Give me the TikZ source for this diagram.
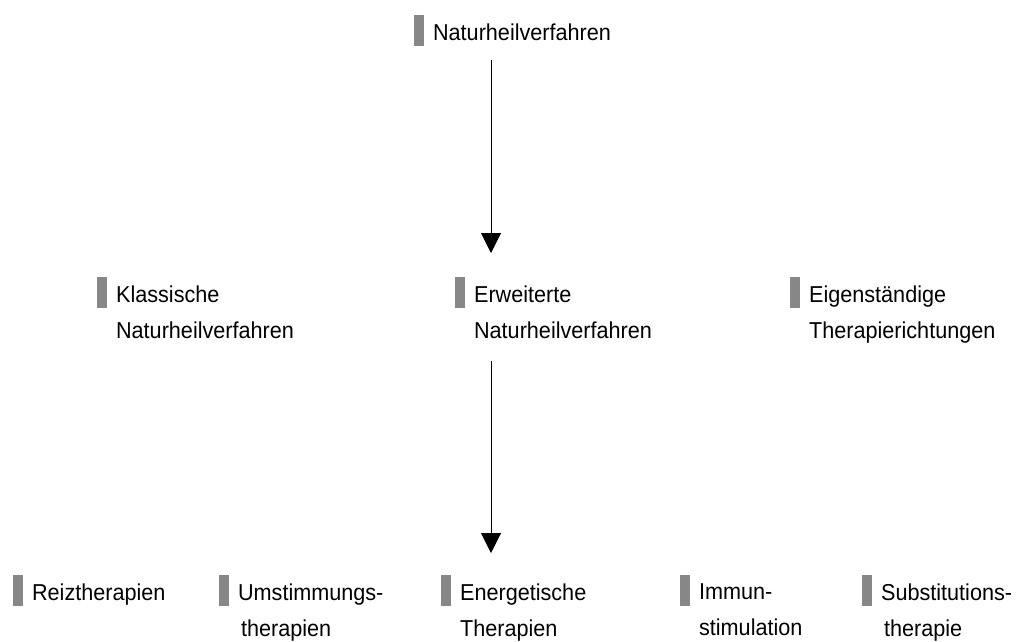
\documentclass[tikz,border=0pt]{standalone}
\usepackage{fontspec}
\setmainfont{Liberation Sans}[FakeStretch=0.94]
\usetikzlibrary{positioning,arrows.meta}
\begin{document}
\begin{tikzpicture}[x=1pt,y=-1pt,
bar/.style={%
fill=black!47,
minimum width=9.5pt,
minimum height=31pt,
inner sep=0pt,
anchor=north west
},
lbl/.style={%
anchor=north west,
inner sep=0pt,
align=left,
font=\fontsize{23}{36}\selectfont
},
arr/.style={%
line width=1pt,
-{Triangle[length=20pt,width=20pt]}
},
]
\useasboundingbox(0,0)rectangle(1028,641);
%%axis of the arrows
\coordinate(ax)at(491,0);
%%top
\node[bar](b0)at(414,15){};
\node[below right=8.5pt and 9pt of b0.north east,lbl](t0){Naturheilverfahren};
%%second row
\node[bar](b1)at(97,277){};
\node[below right=8.5pt and 9pt of b1.north east,lbl](t1){Klassische\\Naturheilverfahren};
\node[bar](b2)at(455,277){};
\node[below right=8.5pt and 9pt of b2.north east,lbl](t2){Erweiterte\\Naturheilverfahren};
\node[bar](b3)at(790,277){};
\node[below right=8.5pt and 9pt of b3.north east,lbl](t3){Eigenständige\\Therapierichtungen};
%%third row
\node[bar](b4)at(13,575){};
\node[below right=8.5pt and 9pt of b4.north east,lbl](t4){Reiztherapien};
\node[bar](b5)at(219,575){};
\node[below right=8.5pt and 9pt of b5.north east,lbl](t5){Umstimmungs-\\\hspace{3pt}therapien};
\node[bar](b6)at(441,575){};
\node[below right=8.5pt and 9pt of b6.north east,lbl](t6){Energetische\\Therapien};
\node[bar](b7)at(680,575){};
\node[below right=8.5pt and 9pt of b7.north east,lbl](t7){Immun-\\stimulation};
\node[bar](b8)at(862,575){};
\node[below right=8.5pt and 9pt of b8.north east,lbl](t8){Substitutions-\\\hspace{3pt}therapie};
%%arrows
\draw[arr,shorten <=14pt,shorten >=24pt](b0.south -| ax)--(b2.north -| ax);
\draw[arr,shorten <=53pt,shorten >=22pt](b2.south -| ax)--(b6.north -| ax);
\end{tikzpicture}
\end{document}
